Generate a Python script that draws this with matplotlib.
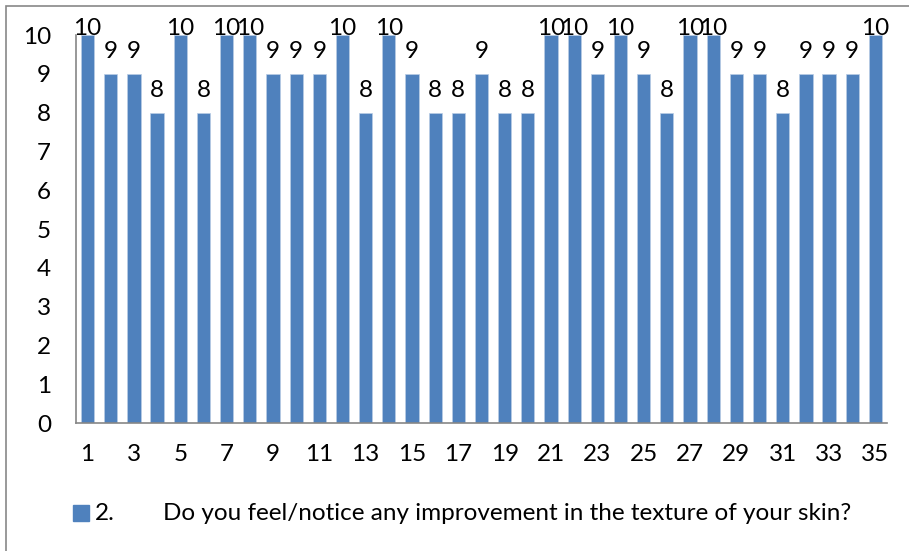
import matplotlib.pyplot as plt
from matplotlib.patches import Rectangle

# respondent number and score given
respondents = list(range(1, 36))
scores = [10, 9, 9, 8, 10, 8, 10, 10, 9, 9, 9, 10, 8, 10, 9, 8, 8, 9, 8, 8,
          10, 10, 9, 10, 9, 8, 10, 10, 9, 9, 8, 9, 9, 9, 10]
x_ticks = list(range(1, 36, 2))
y_ticks = list(range(0, 11))
series_label = "2."
question = "Do you feel/notice any improvement in the texture of your skin?"

plt.rcParams['font.family'] = ['Lato', 'DejaVu Sans']
bar_color = '#4F81BD'
axis_gray = '#868686'
fs = 17.5

fig = plt.figure(figsize=(9.09, 5.51), dpi=100)
ax = fig.add_axes([76 / 909, 1 - 423 / 551, (887 - 76) / 909, (423 - 35) / 551])

ax.bar(respondents, scores, width=0.57, color=bar_color,
       edgecolor='#B9CDE5', linewidth=0.5)

# value labels; those at the top are kept inside the plot like Excel does
for x, v in zip(respondents, scores):
    off = 0 if v >= max(y_ticks) else 11.5
    ax.annotate(str(v), (x, v), xytext=(0, off), textcoords='offset points',
                ha='center', va='baseline', fontsize=fs, color='black',
                annotation_clip=False)

ax.set_xlim(0.5, 35.5)
ax.set_ylim(0, 10)
ax.set_xticks(x_ticks)
ax.set_xticklabels([str(t) for t in x_ticks])
ax.set_yticks(y_ticks)
ax.tick_params(axis='x', length=0, pad=15, labelsize=fs)
ax.tick_params(axis='y', length=0, pad=18, labelsize=fs)
for side in ['top', 'right']:
    ax.spines[side].set_visible(False)
for side in ['left', 'bottom']:
    ax.spines[side].set_color(axis_gray)
    ax.spines[side].set_linewidth(1.2)

# legend drawn by hand to keep the tab gap
fig.patches.append(Rectangle((73 / 909, 1 - 521 / 551), 16 / 909, 16 / 551,
                             transform=fig.transFigure, color=bar_color))
fig.text(95 / 909, 1 - 513 / 551, series_label, fontsize=fs, va='center')
fig.text(163 / 909, 1 - 513 / 551, question, fontsize=fs, va='center')

# outer chart border (cropped at right and bottom)
fig.patches.append(Rectangle((5.5 / 909, -0.1), 1.2, 1 - 5.5 / 551 + 0.1,
                             transform=fig.transFigure, fill=False,
                             edgecolor='#878787', linewidth=1.2))

fig.savefig('out.png', dpi=100)
